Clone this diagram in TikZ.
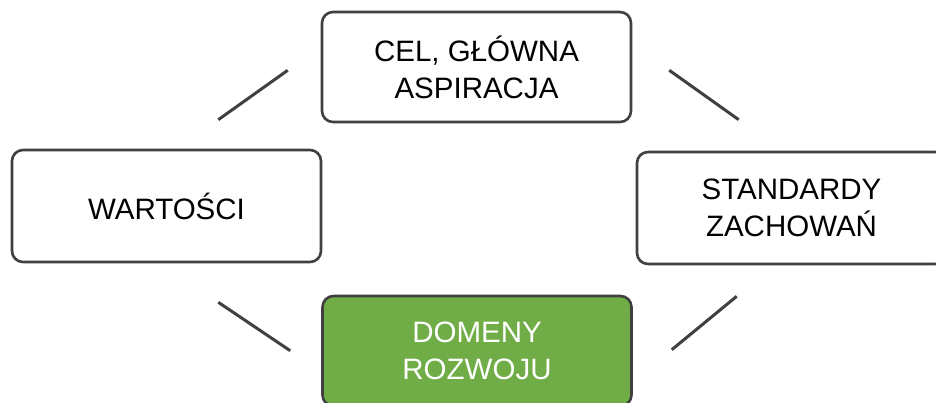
\documentclass[tikz,border=0pt]{standalone}
\usepackage{fontspec}
\setmainfont{Liberation Sans}
\definecolor{edgegray}{HTML}{404040}
\definecolor{domgreen}{HTML}{70AD47}
\begin{document}
\begin{tikzpicture}[x=1pt,y=-1pt,
    box/.style={draw=edgegray,line width=2.6pt,rounded corners=11pt,fill=white,
        minimum width=309pt,minimum height=110pt,align=center,inner sep=0pt,
        font=\fontsize{29.5}{37}\selectfont},
    greenbox/.style={box,fill=domgreen,text=white},
    link/.style={draw=edgegray,line width=3pt}]
    \clip (0,0) rectangle (936,403);
    \fill[white] (0,0) rectangle (936,403);
    \node[box] (cel) at (476.5,67) {CEL, GŁÓWNA\\ASPIRACJA};
    \node[box,minimum height=112pt] (wart) at (166.5,206) {WARTOŚCI};
    \node[box,minimum height=112pt] (stand) at (791.5,208) {STANDARDY\\ZACHOWAŃ};
    \node[greenbox] (dom) at (477,351) {DOMENY\\ROZWOJU};
    \draw[link] ([xshift=-104pt,yshift=29pt]wart.north east) -- ([xshift=-33pt,yshift=53pt]cel.south west);
    \draw[link] ([xshift=37pt,yshift=53pt]cel.south east) -- ([xshift=103pt,yshift=31pt]stand.north west);
    \draw[link] ([xshift=-104pt,yshift=-39pt]wart.south east) -- ([xshift=-31pt,yshift=-56pt]dom.north west);
    \draw[link] ([xshift=39pt,yshift=-55pt]dom.north east) -- ([xshift=101pt,yshift=-31pt]stand.south west);
\end{tikzpicture}
\end{document}
